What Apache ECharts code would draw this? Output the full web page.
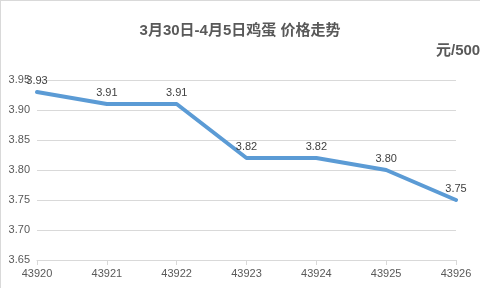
<!DOCTYPE html>
<html>
<head>
<meta charset="utf-8">
<script src="https://cdn.jsdelivr.net/npm/echarts@6/dist/echarts.min.js"></script>
<style>
html,body{margin:0;padding:0;background:#fff;}
#chart{width:480px;height:288px;}
</style>
</head>
<body>
<div id="chart"></div>
<script>
var titleText = '3月30日-4月5日鸡蛋 价格走势';
var unitText = '元/500g';
var categories = ['43920','43921','43922','43923','43924','43925','43926'];
var prices = [3.93, 3.91, 3.91, 3.82, 3.82, 3.80, 3.75];
var yMin = 3.65, yMax = 3.95, yStep = 0.05;

var chart = echarts.init(document.getElementById('chart'));
var font = '"Liberation Sans", Arial, "Noto Sans CJK SC", sans-serif';
chart.setOption({
  animation: false,
  backgroundColor: '#ffffff',
  title: {
    text: titleText,
    left: 'center',
    top: 18,
    textStyle: {fontFamily: font, fontSize: 15, fontWeight: 'bold', color: '#595959'}
  },
  graphic: [
    {type: 'line', shape: {x1: 0.5, y1: 0, x2: 0.5, y2: 288}, style: {stroke: '#d9d9d9', lineWidth: 1}},
    {type: 'line', shape: {x1: 0, y1: 0.5, x2: 480, y2: 0.5}, style: {stroke: '#d9d9d9', lineWidth: 1}},
    {type: 'text', left: 436, top: 43, style: {text: unitText, fontFamily: font, fontSize: 15, fontWeight: 'bold', fill: '#595959'}}
  ],
  grid: {left: 37, right: 24, top: 80, bottom: 28, containLabel: false},
  xAxis: {
    type: 'category',
    data: categories,
    boundaryGap: false,
    axisLine: {lineStyle: {color: '#d9d9d9', width: 1}},
    axisTick: {show: true, length: 5, alignWithLabel: true, lineStyle: {color: '#d9d9d9'}},
    axisLabel: {margin: 8, fontFamily: font, fontSize: 11, color: '#595959', interval: 0},
    splitLine: {show: false}
  },
  yAxis: {
    type: 'value',
    min: yMin, max: yMax, interval: yStep,
    axisLine: {show: false},
    axisTick: {show: false},
    axisLabel: {margin: 7, fontFamily: font, fontSize: 11, color: '#595959', formatter: function(v){return v.toFixed(2);}},
    splitLine: {lineStyle: {color: '#d9d9d9', width: 1}}
  },
  series: [{
    type: 'line',
    data: prices,
    symbol: 'circle',
    symbolSize: 2,
    showSymbol: true,
    lineStyle: {color: '#5b9bd5', width: 4, cap: 'round', join: 'round'},
    itemStyle: {color: '#5b9bd5'},
    label: {show: true, position: 'top', distance: 5, fontFamily: font, fontSize: 11, color: '#404040', formatter: function(p){return p.value.toFixed(2);}}
  }]
});
</script>
</body>
</html>
